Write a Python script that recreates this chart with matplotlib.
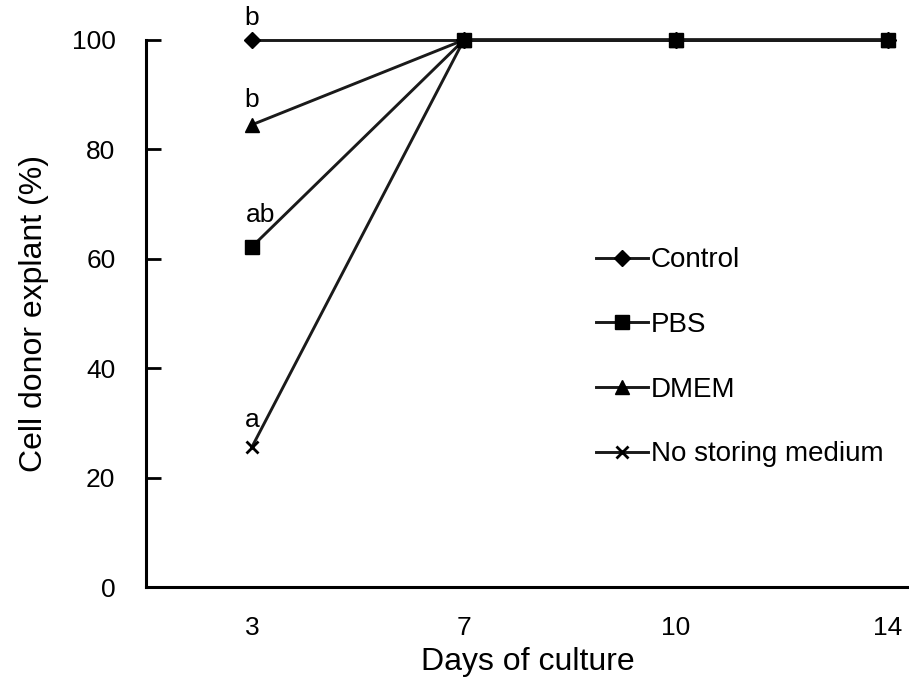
import numpy as np
import matplotlib
matplotlib.use("Agg")
import matplotlib.pyplot as plt

plt.rcParams['font.family'] = ['Liberation Sans', 'DejaVu Sans']

# Data
days = ['3', '7', '10', '14']
control = [100, 100, 100, 100]
pbs = [62.2, 100, 100, 100]
dmem = [84.5, 100, 100, 100]
no_medium = [25.6, 100, 100, 100]
letters = ['b', 'b', 'ab', 'a']
letter_y = [104, 89, 68, 30.5]
letter_dx = [0, 0, 0.04, 0]

fig = plt.figure(figsize=(9.09, 6.96), dpi=100)
ax = fig.add_axes([0.1606, 0.1566, 0.8394, 0.786])

x = np.arange(len(days))
lw = 2.1
ax.plot(x, control, color='#1a1a1a', lw=lw, marker='D', ms=8, mfc='black', mec='black',
        label='Control', clip_on=False, zorder=3)
ax.plot(x, pbs, color='#1a1a1a', lw=lw, marker='s', ms=10, mfc='black', mec='black',
        label='PBS', clip_on=False, zorder=4)
ax.plot(x, dmem, color='#1a1a1a', lw=lw, marker='^', ms=10, mfc='black', mec='black',
        label='DMEM', clip_on=False, zorder=3)
ax.plot(x, no_medium, color='#1a1a1a', lw=lw, marker='x', ms=8, mew=2, mfc='black', mec='black',
        label='No storing medium', clip_on=False, zorder=3)

# significance letters at day 3
for lab, ly, dx in zip(letters, letter_y, letter_dx):
    ax.text(x[0] + dx, ly, lab, ha='center', va='center', fontsize=19)

ax.set_xlim(-0.5, 3.1)
ax.set_ylim(0, 100)
ax.set_xticks(x)
ax.set_xticklabels(days)
ax.set_yticks(np.arange(0, 101, 20))
ax.tick_params(axis='x', length=0, pad=21, labelsize=19)
ax.tick_params(axis='y', direction='in', length=11, width=2, pad=22, labelsize=19)

for s in ['top', 'right']:
    ax.spines[s].set_visible(False)
for s in ['left', 'bottom']:
    ax.spines[s].set_linewidth(2.2)

ax.set_xlabel('Days of culture', fontsize=23, labelpad=5)
ax.set_ylabel('Cell donor explant (%)', fontsize=23, labelpad=16)

leg = ax.legend(loc='upper left', bbox_to_anchor=(0.575, 0.641), frameon=False,
                fontsize=20, handlelength=1.87, handletextpad=0.1, labelspacing=1.39,
                borderaxespad=0)

fig.savefig('out.png', dpi=100)
